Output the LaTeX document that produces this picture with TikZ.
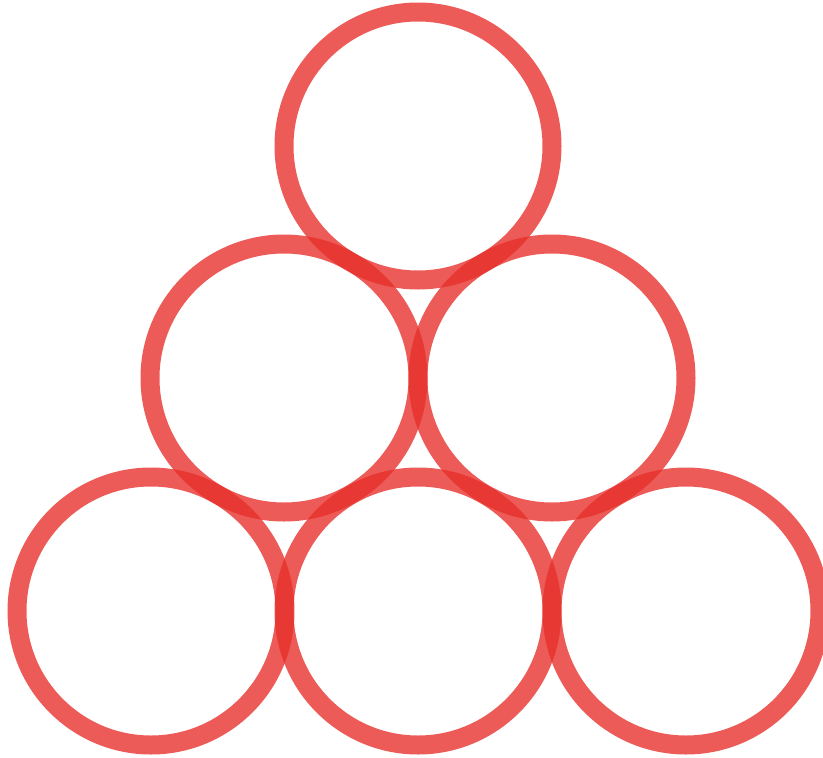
\documentclass[tikz,border=0pt]{standalone}
\definecolor{ringred}{RGB}{231,47,42}
\begin{document}
\begin{tikzpicture}[x=1pt,y=-1pt,
  ring/.style={draw=ringred,draw opacity=0.79,line width=19pt,circle,minimum size=268pt,inner sep=0pt}]
\useasboundingbox (0,0) rectangle (823,758);
\node[ring] (t) at (418,146) {};
\node[ring] (ml) at (284,378) {};
\node[ring] (mr) at (552,378) {};
\node[ring] (bl) at (151,611) {};
\node[ring] (bm) at (418,611) {};
\node[ring] (br) at (686,611) {};
\end{tikzpicture}
\end{document}
